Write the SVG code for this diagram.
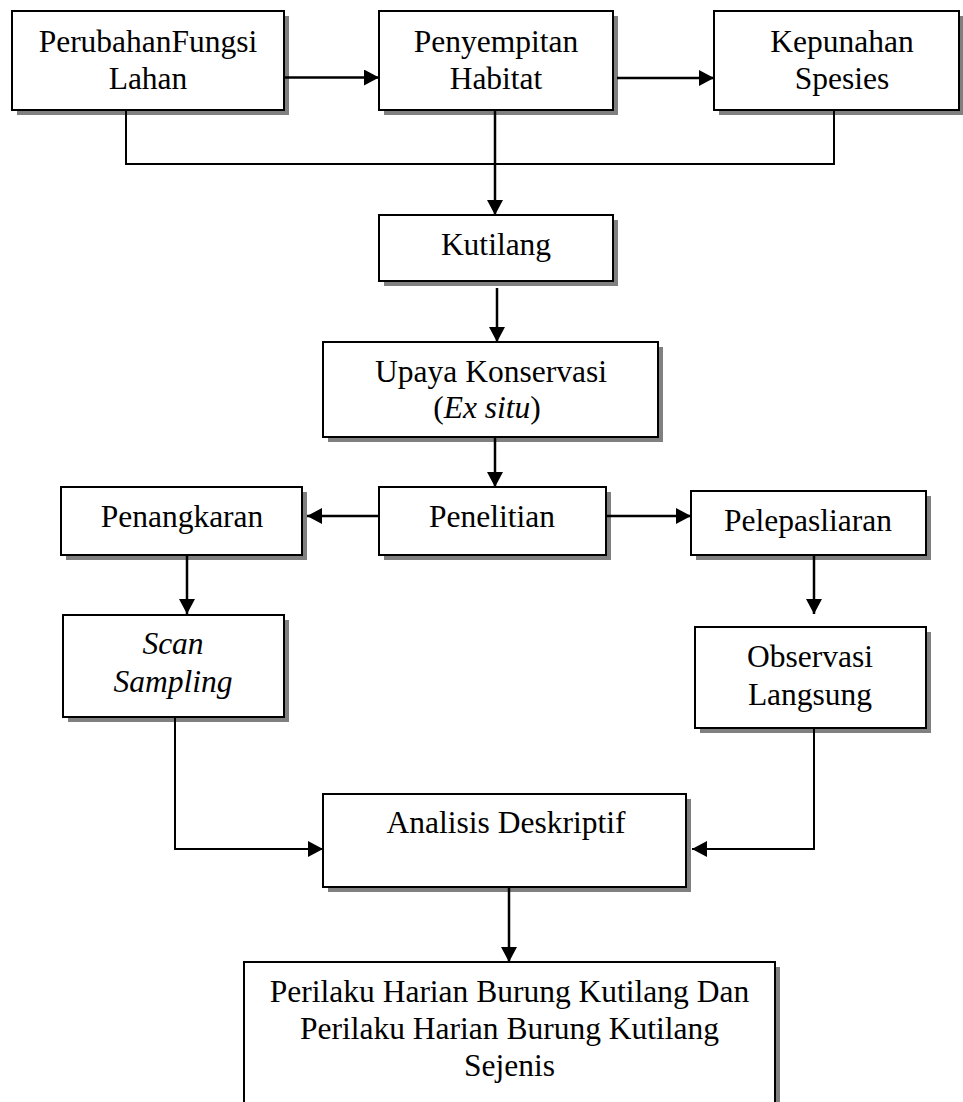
<svg xmlns="http://www.w3.org/2000/svg" width="963" height="1102" viewBox="0 0 963 1102">
<defs>
<style>
.box{fill:#fff;stroke:#000;stroke-width:2}
.sh{fill:#808080}
.t{font-family:"Liberation Serif","Times New Roman",serif;font-size:31.5px;fill:#000;text-anchor:middle}
.i{font-style:italic}
.c{fill:none;stroke:#000;stroke-width:2.5}
.b{fill:none;stroke:#000;stroke-width:2}
</style>
<marker id="ah" markerUnits="userSpaceOnUse" markerWidth="15" markerHeight="16" refX="15" refY="8" orient="auto">
<path d="M0,0 L15,8 L0,16 z" fill="#000"/>
</marker>
</defs>
<rect width="963" height="1102" fill="#fff"/>
<g id="n1"><rect class="sh" x="17" y="16" width="272" height="99"/><rect class="box" x="12" y="11" width="272" height="99"/><text class="t" x="148" y="52">PerubahanFungsi</text><text class="t" x="148" y="89">Lahan</text></g>
<g id="n2"><rect class="sh" x="384" y="16" width="234" height="99"/><rect class="box" x="379" y="11" width="234" height="99"/><text class="t" x="496" y="52">Penyempitan</text><text class="t" x="496" y="89">Habitat</text></g>
<g id="n3"><rect class="sh" x="719" y="16" width="250" height="99"/><rect class="box" x="714" y="11" width="245" height="99"/><text class="t" x="842" y="52">Kepunahan</text><text class="t" x="842" y="89">Spesies</text></g>
<g id="n4"><rect class="sh" x="384" y="220" width="234" height="66"/><rect class="box" x="379" y="215" width="234" height="66"/><text class="t" x="496" y="255">Kutilang</text></g>
<g id="n5"><rect class="sh" x="328" y="347" width="335" height="95"/><rect class="box" x="323" y="342" width="335" height="95"/><text class="t" x="491" y="382">Upaya Konservasi</text><text class="t" x="487" y="418">(<tspan class="i">Ex situ</tspan>)</text></g>
<g id="n6"><rect class="sh" x="66" y="492" width="241" height="68"/><rect class="box" x="61" y="487" width="241" height="68"/><text class="t" x="182" y="527">Penangkaran</text></g>
<g id="n7"><rect class="sh" x="384" y="492" width="227" height="68"/><rect class="box" x="379" y="487" width="227" height="68"/><text class="t" x="492" y="527">Penelitian</text></g>
<g id="n8"><rect class="sh" x="696" y="496" width="235" height="64"/><rect class="box" x="691" y="491" width="235" height="64"/><text class="t" x="808" y="531">Pelepasliaran</text></g>
<g id="n9"><rect class="sh" x="68" y="620" width="221" height="102"/><rect class="box" x="63" y="615" width="221" height="102"/><text class="t i" x="173" y="654">Scan</text><text class="t i" x="173" y="692">Sampling</text></g>
<g id="n10"><rect class="sh" x="700" y="632" width="231" height="101"/><rect class="box" x="695" y="627" width="231" height="101"/><text class="t" x="810" y="667">Observasi</text><text class="t" x="810" y="705">Langsung</text></g>
<g id="n11"><rect class="sh" x="328" y="799" width="363" height="93"/><rect class="box" x="323" y="794" width="363" height="93"/><text class="t" x="506" y="833">Analisis Deskriptif</text></g>
<g id="n12"><rect class="sh" x="249" y="967" width="531" height="150"/><rect class="box" x="244" y="962" width="531" height="150"/><text class="t" x="509.5" y="1002">Perilaku Harian Burung Kutilang Dan</text><text class="t" x="509.5" y="1039">Perilaku Harian Burung Kutilang</text><text class="t" x="509.5" y="1076">Sejenis</text></g>
<g id="connectors">
<line class="c" x1="284" y1="77.5" x2="379" y2="77.5" marker-end="url(#ah)"/>
<line class="c" x1="617" y1="78" x2="714" y2="78" marker-end="url(#ah)"/>
<polyline class="b" points="126,110 126,164 834,164 834,110"/>
<line class="c" x1="495" y1="110" x2="495" y2="215" marker-end="url(#ah)"/>
<line class="c" x1="497" y1="288" x2="497" y2="342" marker-end="url(#ah)"/>
<line class="c" x1="495" y1="437" x2="495" y2="487" marker-end="url(#ah)"/>
<line class="c" x1="379" y1="516" x2="307" y2="516" marker-end="url(#ah)"/>
<line class="c" x1="606" y1="516" x2="691" y2="516" marker-end="url(#ah)"/>
<line class="c" x1="814" y1="555" x2="814" y2="614" marker-end="url(#ah)"/>
<line class="c" x1="187" y1="555" x2="187" y2="614" marker-end="url(#ah)"/>
<polyline class="b" points="175,717 175,849 323,849" marker-end="url(#ah)"/>
<polyline class="b" points="814,728 814,849 692,849" marker-end="url(#ah)"/>
<line class="c" x1="509" y1="887" x2="509" y2="962" marker-end="url(#ah)"/>
</g>
</svg>
